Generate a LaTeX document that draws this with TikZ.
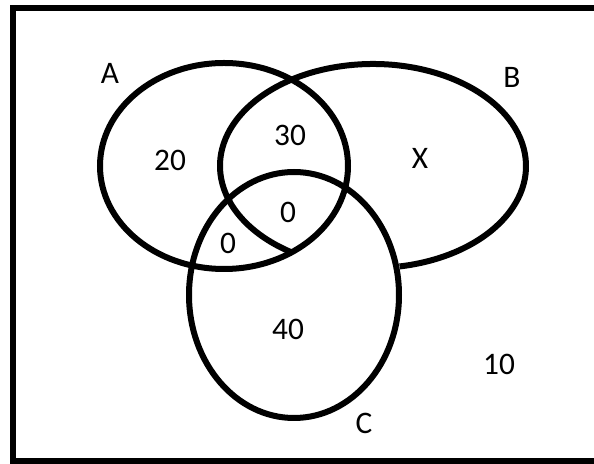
\documentclass[tikz,border=0pt]{standalone}
\usepackage{fontspec}
\setmainfont{Carlito}
\usepackage{tikz}

\begin{document}
\begin{tikzpicture}[x=0.75pt, y=0.75pt, line width=4.5pt,
    setlabel/.style={inner sep=0pt, font=\fontsize{23.5}{27}\selectfont}]
	\useasboundingbox (0,0) rectangle (594,464);
	\clip (0,0) rectangle (594,464);
	% frame (right side runs off the page)
	\draw (620,456) -- (13,456) -- (13,3) -- (620,3);
	
	% the three sets
	\draw (224,298) ellipse [x radius=124, y radius=103];
	\draw (373,298) ++(280:153 and 102) arc [start angle=280, end angle=598.5, x radius=153, y radius=102];
	\draw (294,169) ellipse [x radius=105, y radius=123];
	
	\node[setlabel] (la) at (110,391) {A};
	\node[setlabel] (lb) at (512,387) {B};
	\node[setlabel] (lc) at (364,41) {C};
	
	\node[setlabel] (nA) at (170,304) {20};
	\node[setlabel] (nAB) at (290,329) {30};
	\node[setlabel] (nABC) at (288,252) {0};
	\node[setlabel] (nAC) at (228,221) {0};
	\node[setlabel] (nB) at (420,306) {X};
	\node[setlabel] (nC) at (288,135) {40};
	\node[setlabel] (nU) at (499,100) {10};
\end{tikzpicture}
\end{document}
